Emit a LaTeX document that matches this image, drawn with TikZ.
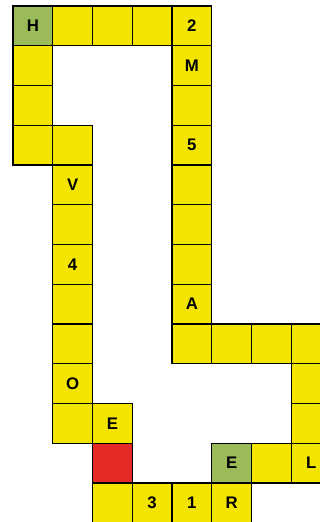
\documentclass[tikz,border=0pt]{standalone}
\usepackage{fontspec}
\setmainfont{Liberation Sans}
\usepackage{xcolor}
\usetikzlibrary{positioning}

\definecolor{cellyellow}{HTML}{F4E500}
\definecolor{cellgreen}{HTML}{9BBB59}
\definecolor{cellred}{HTML}{E52926}

\tikzset{
    cell/.style={rectangle,draw,line width=0.8pt,fill=cellyellow,minimum size=1cm,inner sep=0pt,
        font=\fontsize{12}{14}\selectfont\bfseries},
    startcell/.style={cell,fill=cellgreen},
    holecell/.style={cell,fill=cellred}
}

\begin{document}
\begin{tikzpicture}
    \useasboundingbox (-0.327,0.151) rectangle (7.723,-12.981);
    \clip (-0.327,0.151) rectangle (7.723,-12.981);

    % Path cells: column/row/label
    \foreach \c/\r/\t in {1/0/,2/0/,3/0/,4/0/2,
                          0/1/,4/1/M,
                          0/2/,4/2/,
                          0/3/,1/3/,4/3/5,
                          1/4/V,4/4/,
                          1/5/,4/5/,
                          1/6/4,4/6/,
                          1/7/,4/7/A,
                          1/8/,4/8/,5/8/,6/8/,7/8/,
                          1/9/O,7/9/,
                          1/10/,2/10/E,7/10/,
                          6/11/,7/11/L,
                          2/12/,3/12/3,4/12/1,5/12/R}
        \node[cell] (c\c-\r) at (\c+0.5,-\r-0.5) {\t};

    % Special cells
    \node[startcell] (c0-0) at (0.5,-0.5) {H};
    \node[startcell] (c5-11) at (5.5,-11.5) {E};
    \node[holecell] (c2-11) at (2.5,-11.5) {};
\end{tikzpicture}
\end{document}
